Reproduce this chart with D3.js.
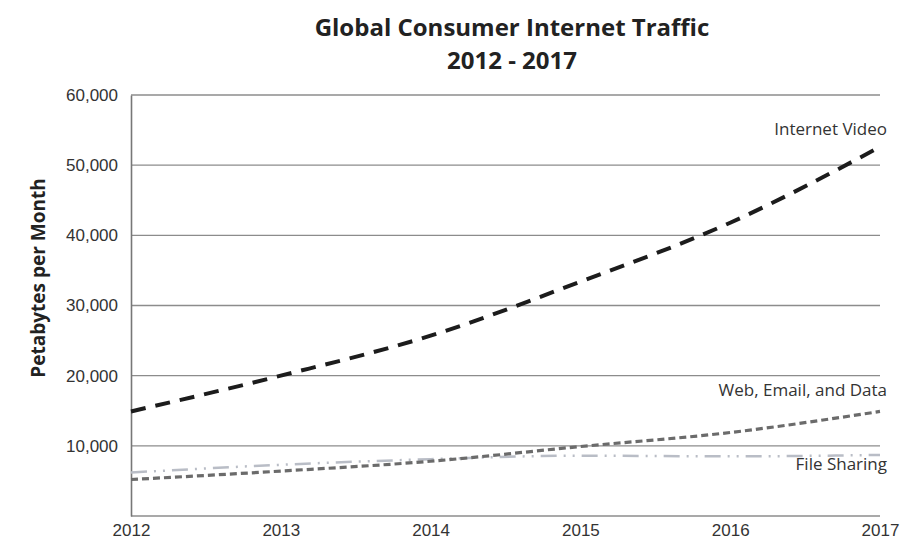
<!DOCTYPE html>
<html>
<head>
<meta charset="utf-8">
<script src="https://cdn.jsdelivr.net/npm/d3@7"></script>
<style>
  body { margin: 0; background: #fff; }
  svg { display: block; font-family: "Open Sans", sans-serif; }
</style>
</head>
<body>
<svg id="chart" width="902" height="542"></svg>
<script>
"use strict";

var years = [2012, 2013, 2014, 2015, 2016, 2017];
var yTicks = [10000, 20000, 30000, 40000, 50000, 60000];

var internetVideo = [14900, 20000, 25700, 33400, 41800, 52600];
var webEmailData = [5200, 6400, 7800, 9900, 11900, 14900];
var fileSharing = [6200, 7300, 8100, 8600, 8500, 8700];

var seriesNames = ["Internet Video", "Web, Email, and Data", "File Sharing"];

var svg = d3.select("#chart");

var margin = { left: 131, right: 22, top: 95, bottom: 26 };
var width = 902 - margin.left - margin.right;
var height = 542 - margin.top - margin.bottom;

var x = d3.scaleLinear().domain([2012, 2017]).range([margin.left, margin.left + width]);
var y = d3.scaleLinear().domain([0, 60000]).range([margin.top + height, margin.top]);

// title
var title = svg.append("text")
    .attr("text-anchor", "middle")
    .style("font-weight", "bold")
    .style("font-size", "24px")
    .attr("fill", "#222");
title.append("tspan").attr("x", 512).attr("y", 36).text("Global Consumer Internet Traffic");
title.append("tspan").attr("x", 512).attr("y", 69).text("2012 - 2017");

// gridlines
svg.append("g")
    .selectAll("line")
    .data([0].concat(yTicks))
    .join("line")
    .attr("x1", margin.left)
    .attr("x2", margin.left + width)
    .attr("y1", function(d) { return y(d); })
    .attr("y2", function(d) { return y(d); })
    .attr("stroke", "#8c8c8c")
    .attr("stroke-width", 1.4);

// y axis
var yAxis = svg.append("g")
    .attr("transform", "translate(" + margin.left + ",0)")
    .call(d3.axisLeft(y).tickValues(yTicks).tickSize(0).tickPadding(13).tickFormat(d3.format(",")));
yAxis.select(".domain").attr("stroke", "#777").attr("stroke-width", 1.6);
yAxis.selectAll("text")
    .style("font-size", "17px")
    .attr("fill", "#333");

// x axis
var xAxis = svg.append("g")
    .attr("transform", "translate(0," + (margin.top + height) + ")")
    .call(d3.axisBottom(x).tickValues(years).tickSize(0).tickPadding(8).tickFormat(d3.format("d")));
xAxis.select(".domain").remove();
xAxis.selectAll("text")
    .style("font-size", "17px")
    .attr("fill", "#333");

// y label
svg.append("text")
    .attr("transform", "translate(45,278) rotate(-90)")
    .attr("text-anchor", "middle")
    .style("font-weight", "bold")
    .style("font-size", "19px")
    .attr("fill", "#222")
    .text("Petabytes per Month");

var line = d3.line()
    .x(function(d, i) { return x(years[i]); })
    .y(function(d) { return y(d); })
    .curve(d3.curveMonotoneX);

svg.append("path")
    .datum(fileSharing)
    .attr("d", line)
    .attr("fill", "none")
    .attr("stroke", "#b9bdc6")
    .attr("stroke-width", 2.5)
    .attr("stroke-dasharray", "16,7,2,7,2,7");

svg.append("path")
    .datum(webEmailData)
    .attr("d", line)
    .attr("fill", "none")
    .attr("stroke", "#6b6b6b")
    .attr("stroke-width", 3.2)
    .attr("stroke-dasharray", "7,4");

svg.append("path")
    .datum(internetVideo)
    .attr("d", line)
    .attr("fill", "none")
    .attr("stroke", "#1c1c1c")
    .attr("stroke-width", 4)
    .attr("stroke-dasharray", "15,10");

// series labels
var labels = [
    { name: seriesNames[0], value: 54300 },
    { name: seriesNames[1], value: 17100 },
    { name: seriesNames[2], value: 6550 }
];
svg.append("g")
    .selectAll("text")
    .data(labels)
    .join("text")
    .attr("x", 887)
    .attr("y", function(d) { return y(d.value); })
    .attr("text-anchor", "end")
    .style("font-size", "17px")
    .attr("fill", "#333")
    .text(function(d) { return d.name; });
</script>
</body>
</html>
